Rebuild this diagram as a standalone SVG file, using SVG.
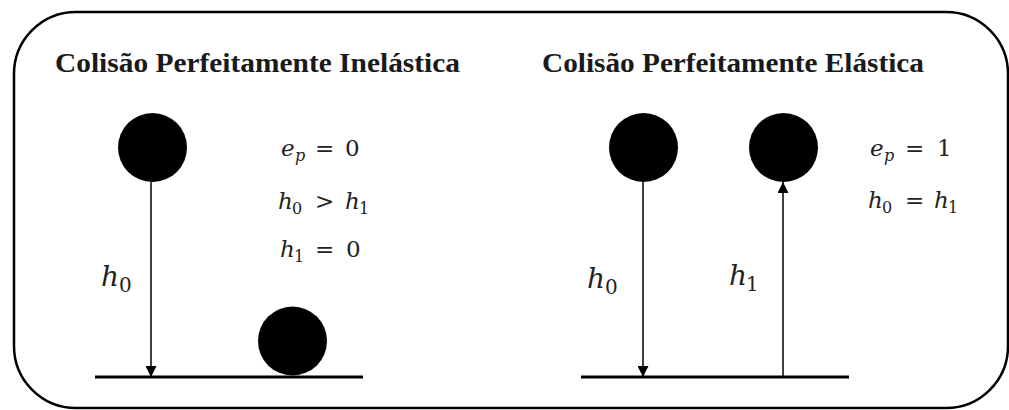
<svg xmlns="http://www.w3.org/2000/svg" width="1009" height="410" viewBox="0 0 1009 410">
<style>
.title{font-family:'Liberation Serif','Times New Roman',serif;font-weight:bold;font-size:27px;fill:#1a1a1a}
.m{font-family:'DejaVu Serif','Liberation Serif',serif;font-size:23px;fill:#222}
.lbl{font-family:'DejaVu Serif','Liberation Serif',serif;font-size:28px;fill:#222}
.v{font-style:italic}
.ball{fill:#000}
.ground{stroke:#000;stroke-width:3}
.arrow{stroke:#000;stroke-width:1.5;fill:none}
</style>
<defs>
<marker id="ah" viewBox="0 0 10 10" refX="10" refY="5" markerWidth="11" markerHeight="11" markerUnits="userSpaceOnUse" orient="auto">
<path d="M0,0 L10,5 L0,10 z" fill="#000"/>
</marker>
</defs>
<rect x="14" y="12" width="994" height="396" rx="62" ry="62" fill="#fff" stroke="#000" stroke-width="2.5"/>
<g id="title-inelastic"><text class="title" x="55" y="72" textLength="405" lengthAdjust="spacingAndGlyphs">Colisão Perfeitamente Inelástica</text></g>
<g id="title-elastic"><text class="title" x="542" y="72" textLength="382" lengthAdjust="spacingAndGlyphs">Colisão Perfeitamente Elástica</text></g>
<g id="ground-left"><line class="ground" x1="95" y1="377" x2="363" y2="377"/></g>
<g id="ground-right"><line class="ground" x1="581" y1="377" x2="849" y2="377"/></g>
<g id="ball-left-top"><circle class="ball" cx="152.5" cy="147.5" r="34.5"/></g>
<g id="ball-left-bottom"><circle class="ball" cx="292.5" cy="341" r="34.5"/></g>
<g id="ball-right-1"><circle class="ball" cx="643.5" cy="147.5" r="34.5"/></g>
<g id="ball-right-2"><circle class="ball" cx="783.5" cy="147.5" r="34.5"/></g>
<g id="connectors">
<line class="arrow" x1="151" y1="182" x2="151" y2="377" marker-end="url(#ah)"/>
<line class="arrow" x1="643" y1="182" x2="643" y2="377" marker-end="url(#ah)"/>
<line class="arrow" x1="783" y1="377" x2="783" y2="182" marker-end="url(#ah)"/>
</g>
<g id="label-h0-left"><text class="lbl"><tspan class="v" x="101" y="286">h</tspan><tspan x="119" y="292" font-size="20">0</tspan></text></g>
<g id="label-h0-right"><text class="lbl"><tspan class="v" x="587" y="288">h</tspan><tspan x="605" y="294" font-size="20">0</tspan></text></g>
<g id="label-h1-right"><text class="lbl"><tspan class="v" x="729" y="285">h</tspan><tspan x="746" y="291" font-size="20">1</tspan></text></g>
<g id="eq-left">
<text class="m"><tspan class="v" x="281" y="156">e</tspan><tspan class="v" x="295" y="161" font-size="16">p</tspan><tspan x="315" y="156">=</tspan><tspan x="345" y="156">0</tspan></text>
<text class="m"><tspan class="v" x="278" y="209">h</tspan><tspan x="292" y="214" font-size="16">0</tspan><tspan x="315" y="209">&gt;</tspan><tspan class="v" x="345" y="209">h</tspan><tspan x="359" y="214" font-size="16">1</tspan></text>
<text class="m"><tspan class="v" x="280" y="257">h</tspan><tspan x="294" y="262" font-size="16">1</tspan><tspan x="315" y="257">=</tspan><tspan x="346" y="257">0</tspan></text>
</g>
<g id="eq-right">
<text class="m"><tspan class="v" x="870" y="156">e</tspan><tspan class="v" x="884" y="161" font-size="16">p</tspan><tspan x="905" y="156">=</tspan><tspan x="937" y="156">1</tspan></text>
<text class="m"><tspan class="v" x="868" y="208">h</tspan><tspan x="882" y="213" font-size="16">0</tspan><tspan x="905" y="208">=</tspan><tspan class="v" x="934" y="208">h</tspan><tspan x="948" y="213" font-size="16">1</tspan></text>
</g>
</svg>
